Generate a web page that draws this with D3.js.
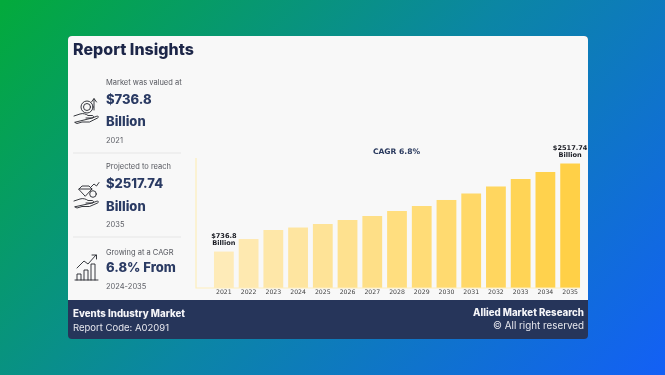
<!DOCTYPE html>
<html>
<head>
<meta charset="utf-8">
<script src="https://cdn.jsdelivr.net/npm/d3@7"></script>
<style>
html, body { margin: 0; padding: 0; overflow: hidden; }
svg { display: block; }
.ui { font-family: Inter, "Open Sans", sans-serif; }
.chartText { font-family: "DejaVu Sans", sans-serif; }
.icon { fill: none; stroke: #23252b; stroke-width: 0.9; stroke-linejoin: round; stroke-linecap: round; }
</style>
</head>
<body>
<script>
//what the chart shows
var years = ["2021","2022","2023","2024","2025","2026","2027","2028","2029","2030","2031","2032","2033","2034","2035"];
var marketValues = [736.8,990,1173,1223,1294,1375,1456,1557,1658,1780,1911,2053,2204,2346,2517.74];
var barLabels = {"2021": ["$736.8","Billion"], "2035": ["$2517.74","Billion"]};

var insightSmall = ["Market was valued at","Projected to reach","Growing at a CAGR"];
var insightBig = [["$736.8","Billion"],["$2517.74","Billion"],["6.8% From"]];
var insightFoot = ["2021","2035","2024-2035"];

var width = 665, height = 375;
var navy = "#27345a";

var svg = d3.select("body").append("svg")
    .attr("width", width)
    .attr("height", height);

var defs = svg.append("defs");

var bg = defs.append("linearGradient")
    .attr("id", "bgGrad")
    .attr("gradientUnits", "userSpaceOnUse")
    .attr("x1", 60).attr("y1", -60)
    .attr("x2", 605).attr("y2", 435);
bg.append("stop").attr("offset", "0").attr("stop-color", "#03aa3c");
bg.append("stop").attr("offset", "0.5").attr("stop-color", "#0b86a4");
bg.append("stop").attr("offset", "1").attr("stop-color", "#1360f5");

defs.append("filter").attr("id", "soft")
    .append("feGaussianBlur").attr("stdDeviation", 0.3);

svg.append("rect")
    .attr("width", width).attr("height", height)
    .attr("fill", "url(#bgGrad)");

var card = svg.append("g").attr("filter", "url(#soft)");

//card body and the dark strip at the bottom
card.append("rect")
    .attr("x", 68).attr("y", 36)
    .attr("width", 520).attr("height", 303)
    .attr("rx", 4)
    .attr("fill", navy);
card.append("path")
    .attr("d", "M68 300V40a4 4 0 0 1 4-4H584a4 4 0 0 1 4 4V300Z")
    .attr("fill", "#f8f8f8");

card.append("text")
    .attr("class", "ui")
    .attr("x", 73).attr("y", 55)
    .attr("font-size", 16)
    .attr("font-weight", 800)
    .attr("fill", "#1f2748")
    .text("Report Insights");

//left column
var smallY = [82, 166, 252];
var bigY = [[99, 121], [183, 206], [267]];
var footY = [140, 224, 286];

insightSmall.forEach(function(t, i){
    card.append("text").attr("class", "ui")
        .attr("x", 106).attr("y", smallY[i])
        .attr("dy", "0.35em")
        .attr("font-size", 7.5)
        .attr("fill", "#55575e")
        .text(t);
    insightBig[i].forEach(function(b, j){
        card.append("text").attr("class", "ui")
            .attr("x", 106).attr("y", bigY[i][j])
            .attr("dy", "0.35em")
            .attr("font-size", 13)
            .attr("font-weight", 800)
            .attr("fill", "#2b3a63")
            .text(b);
    });
    card.append("text").attr("class", "ui")
        .attr("x", 106).attr("y", footY[i])
        .attr("dy", "0.35em")
        .attr("font-size", 7.5)
        .attr("fill", "#5c5e65")
        .text(insightFoot[i]);
});

card.selectAll(".divider")
    .data([153, 237])
    .enter()
    .append("line")
    .attr("class", "divider")
    .attr("x1", 73).attr("x2", 181)
    .attr("y1", function(d){ return d; })
    .attr("y2", function(d){ return d; })
    .attr("stroke", "#e6e6e6");

//icons, roughly traced
var coinHand = card.append("g").attr("class", "icon");
coinHand.append("circle").attr("cx", 87).attr("cy", 107).attr("r", 6);
coinHand.append("circle").attr("cx", 87).attr("cy", 107).attr("r", 3.5);
coinHand.append("path").attr("d", "M94 110V99M91.500 102l2.500-3.500 2.500 3.500");
coinHand.append("path").attr("d", "M74 116l6-2c3-1 6 0 8 1.500h4c2 0 2 2.500 0 2.500h-6M92 118l4-1.500c2-1 3.500 .5 1.500 1.500l-8 4H82l-5 1.500-2-1Z");

var gemHand = card.append("g").attr("class", "icon");
gemHand.append("path").attr("d", "M79 189l3-3h7l3 3-6.500 7ZM79 189h13");
gemHand.append("circle").attr("cx", 93).attr("cy", 194).attr("r", 3.3);
gemHand.append("path").attr("d", "M91 187l3-3 2.500 2 2.500-3.500");
gemHand.append("path").attr("d", "M74 201l6-2c3-1 6 0 8 1.500h4c2 0 2 2.500 0 2.500h-6M92 203l4-1.500c2-1 3.500 .5 1.500 1.500l-8 3.500H82l-5 1.500-2-1Z");

var barsIcon = card.append("g").attr("class", "icon");
barsIcon.append("path").attr("d", "M75 280H98M77 280v-6h4v6M84 280v-10h4v10M91 280v-16h4v16");
barsIcon.append("path").attr("d", "M77 268l7-7 4 3 8-9M92 255h4.500v4");

//footer text
card.append("text").attr("class", "ui")
    .attr("x", 73).attr("y", 314).attr("dy", "0.35em")
    .attr("font-size", 9.7).attr("font-weight", 800).attr("fill", "#f4f5f8")
    .text("Events Industry Market");
card.append("text").attr("class", "ui")
    .attr("x", 73).attr("y", 328).attr("dy", "0.35em")
    .attr("font-size", 9.5).attr("fill", "#e6e8ee")
    .text("Report Code: A02091");
card.append("text").attr("class", "ui")
    .attr("x", 584).attr("y", 313).attr("dy", "0.35em")
    .attr("text-anchor", "end")
    .attr("font-size", 9.7).attr("font-weight", 800).attr("fill", "#f4f5f8")
    .text("Allied Market Research");
card.append("text").attr("class", "ui")
    .attr("x", 584).attr("y", 326).attr("dy", "0.35em")
    .attr("text-anchor", "end")
    .attr("font-size", 9.8).attr("fill", "#e6e8ee")
    .text("\u00a9 All right reserved");

//the bar chart
var x = d3.scaleBand()
    .domain(years)
    .range([211.5, 582.5])
    .paddingInner(0.2)
    .paddingOuter(0.1);

var y = d3.scaleLinear()
    .domain([0, 2517.74])
    .range([288, 163.5]);

var barColor = d3.scaleLinear()
    .domain([0, years.length - 1])
    .range(["#feebb8", "#ffd046"]);

card.selectAll(".bar")
    .data(years)
    .enter()
    .append("rect")
    .attr("class", "bar")
    .attr("x", function(d){ return x(d); })
    .attr("width", x.bandwidth())
    .attr("y", function(d, i){ return y(marketValues[i]); })
    .attr("height", function(d, i){ return y(0) - y(marketValues[i]); })
    .attr("fill", function(d, i){ return barColor(i); });

var xAxis = d3.axisBottom(x).tickSize(0).tickPadding(2);
var xG = card.append("g")
    .attr("class", "chartText")
    .attr("transform", "translate(0,288)")
    .call(xAxis);
xG.select(".domain").remove();
xG.selectAll("text")
    .attr("font-family", "DejaVu Sans")
    .attr("font-size", 6.2)
    .attr("fill", "#444");

//pale axis lines
card.append("path")
    .attr("d", "M196 158V288H580")
    .attr("fill", "none")
    .attr("stroke", "#fdeebb")
    .attr("stroke-width", 1.2);

years.forEach(function(yr, i){
    if (!barLabels[yr]) return;
    barLabels[yr].forEach(function(line, j){
        card.append("text").attr("class", "chartText")
            .attr("x", x(yr) + x.bandwidth() / 2)
            .attr("y", y(marketValues[i]) - 16 + j * 7.4)
            .attr("dy", "0.35em")
            .attr("text-anchor", "middle")
            .attr("font-size", 6.6)
            .attr("font-weight", 700)
            .attr("fill", "#1a1c24")
            .text(line);
    });
});

card.append("text").attr("class", "chartText")
    .attr("x", 396.500).attr("y", 151.500).attr("dy", "0.35em")
    .attr("text-anchor", "middle")
    .attr("font-size", 7.6)
    .attr("font-weight", 700)
    .attr("fill", "#2b3a5e")
    .text("CAGR 6.8%");
</script>
</body>
</html>
